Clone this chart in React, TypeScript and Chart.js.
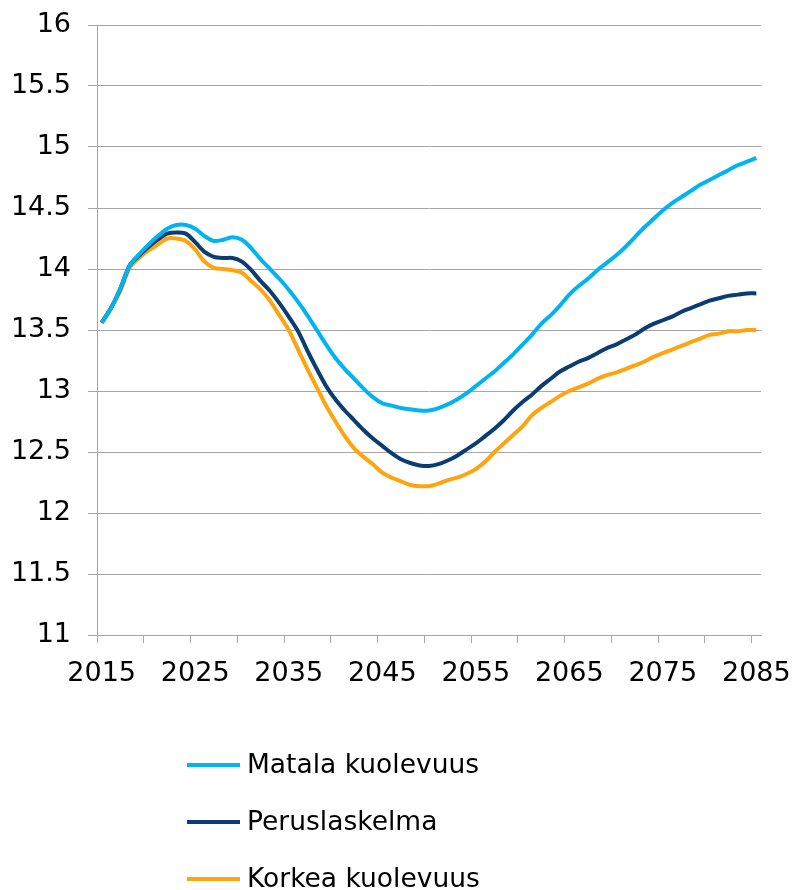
import React, { useEffect, useRef } from "react";
import { Chart, registerables } from "chart.js";

Chart.register(...registerables);

const years: string[] = [];
for (let y = 2015; y <= 2085; y++) years.push(String(y));

const matala = [
  13.56, 13.68, 13.84, 14.03, 14.12, 14.20, 14.27, 14.33, 14.36, 14.36,
  14.33, 14.27, 14.23, 14.24, 14.26, 14.24, 14.17, 14.08, 14.00, 13.92,
  13.83, 13.73, 13.62, 13.50, 13.38, 13.27, 13.18, 13.10, 13.02, 12.95,
  12.90, 12.88, 12.86, 12.85, 12.84, 12.84, 12.86, 12.89, 12.93, 12.98,
  13.04, 13.10, 13.16, 13.23, 13.30, 13.38, 13.46, 13.55, 13.62, 13.70,
  13.79, 13.86, 13.92, 13.99, 14.05, 14.11, 14.18, 14.26, 14.34, 14.41,
  14.48, 14.54, 14.59, 14.64, 14.69, 14.73, 14.77, 14.81, 14.85, 14.88,
  14.91,
];

const perus = [
  13.56, 13.68, 13.84, 14.03, 14.11, 14.18, 14.24, 14.29, 14.30, 14.29,
  14.22, 14.14, 14.10, 14.09, 14.09, 14.06, 13.99, 13.90, 13.82, 13.72,
  13.61, 13.49, 13.33, 13.18, 13.04, 12.93, 12.84, 12.76, 12.68, 12.61,
  12.55, 12.49, 12.44, 12.41, 12.39, 12.385, 12.40, 12.43, 12.47, 12.52,
  12.57, 12.63, 12.69, 12.76, 12.84, 12.91, 12.97, 13.04, 13.10, 13.16,
  13.20, 13.24, 13.27, 13.31, 13.35, 13.38, 13.42, 13.46, 13.51, 13.55,
  13.58, 13.61, 13.65, 13.68, 13.71, 13.74, 13.76, 13.78, 13.79, 13.80,
  13.80,
];

const korkea = [
  13.56, 13.68, 13.82, 14.01, 14.09, 14.15, 14.20, 14.25, 14.25, 14.23,
  14.16, 14.06, 14.01, 14.00, 13.99, 13.97, 13.90, 13.83, 13.74, 13.62,
  13.50, 13.34, 13.18, 13.03, 12.88, 12.75, 12.63, 12.53, 12.46, 12.40,
  12.33, 12.29, 12.26, 12.23, 12.22, 12.22, 12.24, 12.27, 12.29, 12.32,
  12.36, 12.42, 12.50, 12.57, 12.64, 12.71, 12.80, 12.86, 12.91, 12.96,
  13.00, 13.03, 13.06, 13.10, 13.13, 13.15, 13.18, 13.21, 13.24, 13.28,
  13.31, 13.34, 13.37, 13.40, 13.43, 13.46, 13.47, 13.49, 13.49, 13.50,
  13.50,
];

const seriesLabels = ["Matala kuolevuus", "Peruslaskelma", "Korkea kuolevuus"];
const seriesColors = ["#00B4F0", "#0B3D73", "#FFA40F"];

const FONT = '"DejaVu Sans", Verdana, sans-serif';
const GRID = "#A6A6A6";

const stackLegend = {
  id: "stackLegend",
  afterDraw(chart: any) {
    const { ctx, chartArea } = chart;
    ctx.save();
    const x0 = 179;
    chart.data.datasets.forEach((ds: any, i: number) => {
      const y = chartArea.bottom + 130 + i * 57;
      ctx.strokeStyle = ds.borderColor;
      ctx.lineWidth = 4;
      ctx.lineCap = "butt";
      ctx.beginPath();
      ctx.moveTo(x0, y);
      ctx.lineTo(x0 + 53, y);
      ctx.stroke();
      ctx.fillStyle = "#000";
      ctx.font = `26.5px ${FONT}`;
      ctx.textBaseline = "middle";
      ctx.textAlign = "left";
      ctx.fillText(ds.label, x0 + 60, y + 1);
    });
    ctx.restore();
  },
};

// page setup: keep the 8px left/top margin, let the chart use the full window width
document.documentElement.style.overflow = "hidden";
document.body.style.margin = "8px 0 0 8px";
document.body.style.overflow = "visible";

export default function App() {
  const ref = useRef<HTMLCanvasElement | null>(null);
  useEffect(() => {
    if (!ref.current) return;
    const series = [matala, perus, korkea];
    const chart = new Chart(ref.current, {
      type: "line",
      data: {
        labels: years,
        datasets: series.map((d, i) => ({
          label: seriesLabels[i],
          data: d,
          borderColor: seriesColors[i],
          backgroundColor: seriesColors[i],
          borderWidth: 4,
          pointRadius: 0,
          tension: 0.3,
          fill: false,
        })),
      },
      options: {
        animation: false,
        responsive: true,
        maintainAspectRatio: false,
        layout: { padding: { left: 5, right: 31, top: 17, bottom: 205 } },
        plugins: {
          legend: { display: false },
          tooltip: { enabled: false },
        },
        scales: {
          x: {
            type: "category",
            offset: true,
            afterFit: (s: any) => {
              s.height = 50;
              s.paddingLeft = 0;
              s.paddingRight = 0;
            },
            grid: {
              offset: true,
              drawOnChartArea: false,
              drawTicks: true,
              tickLength: 8,
              lineWidth: 1,
              color: (c: any) => (c.index % 5 === 0 && c.index < years.length ? GRID : "rgba(0,0,0,0)"),
            },
            border: { display: true, color: GRID, width: 1 },
            ticks: {
              autoSkip: false,
              maxRotation: 0,
              minRotation: 0,
              padding: 15,
              color: "#000",
              font: { family: FONT, size: 27 },
              callback: (_v: any, i: number) => (i % 10 === 0 ? years[i] : ""),
            },
          },
          y: {
            min: 11,
            max: 16,
            afterFit: (s: any) => {
              s.width = 84;
              s.paddingTop = 0;
              s.paddingBottom = 0;
            },
            grid: {
              color: GRID,
              lineWidth: 1,
              drawTicks: true,
              tickLength: 9,
            },
            border: { display: true, color: GRID, width: 1 },
            ticks: {
              stepSize: 0.5,
              padding: 17,
              color: "#000",
              font: { family: FONT, size: 27 },
              callback: (v: any) => String(v),
            },
          },
        },
      },
      plugins: [stackLegend],
    });
    return () => chart.destroy();
  }, []);
  return (
    <div style={{ width: 784, height: 882, position: "relative" }}>
      <canvas ref={ref} />
    </div>
  );
}
